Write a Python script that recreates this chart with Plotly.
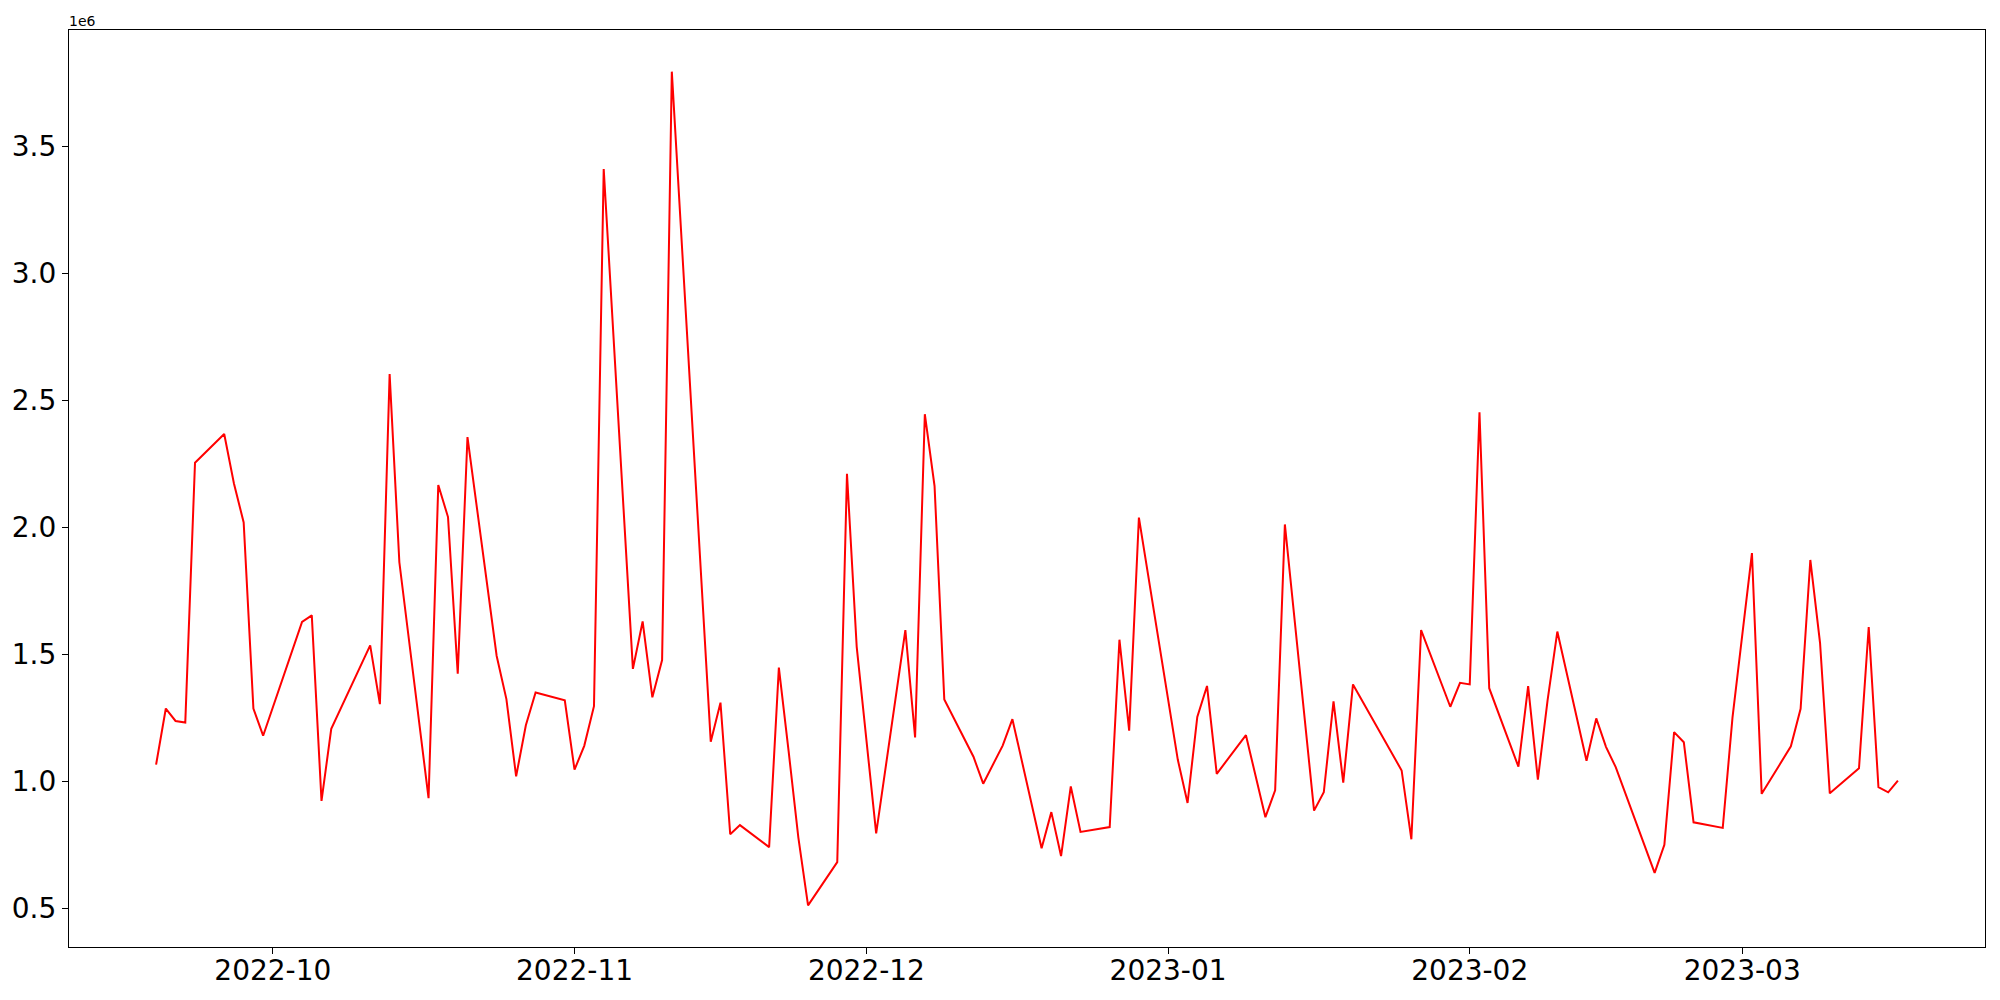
import plotly.graph_objects as go
import pandas as pd

dates = [
    "2022-09-19", "2022-09-20", "2022-09-21", "2022-09-22", "2022-09-23",
    "2022-09-26", "2022-09-27", "2022-09-28", "2022-09-29", "2022-09-30",
    "2022-10-04", "2022-10-05", "2022-10-06", "2022-10-07",
    "2022-10-11", "2022-10-12", "2022-10-13", "2022-10-14",
    "2022-10-17", "2022-10-18", "2022-10-19", "2022-10-20", "2022-10-21",
    "2022-10-24", "2022-10-25", "2022-10-26", "2022-10-27", "2022-10-28",
    "2022-10-31", "2022-11-01", "2022-11-02", "2022-11-03", "2022-11-04",
    "2022-11-07", "2022-11-08", "2022-11-09", "2022-11-10", "2022-11-11",
    "2022-11-15", "2022-11-16", "2022-11-17", "2022-11-18",
    "2022-11-21", "2022-11-22", "2022-11-23", "2022-11-24", "2022-11-25",
    "2022-11-28", "2022-11-29", "2022-11-30", "2022-12-02",
    "2022-12-05", "2022-12-06", "2022-12-07", "2022-12-08", "2022-12-09",
    "2022-12-12", "2022-12-13", "2022-12-15", "2022-12-16",
    "2022-12-19", "2022-12-20", "2022-12-21", "2022-12-22", "2022-12-23",
    "2022-12-26", "2022-12-27", "2022-12-28", "2022-12-29",
    "2023-01-02", "2023-01-03", "2023-01-04", "2023-01-05", "2023-01-06",
    "2023-01-09", "2023-01-11", "2023-01-12", "2023-01-13",
    "2023-01-16", "2023-01-17", "2023-01-18", "2023-01-19", "2023-01-20",
    "2023-01-25", "2023-01-26", "2023-01-27",
    "2023-01-30", "2023-01-31", "2023-02-01", "2023-02-02", "2023-02-03",
    "2023-02-06", "2023-02-07", "2023-02-08", "2023-02-09", "2023-02-10",
    "2023-02-13", "2023-02-14", "2023-02-15", "2023-02-16",
    "2023-02-20", "2023-02-21", "2023-02-22", "2023-02-23", "2023-02-24",
    "2023-02-27", "2023-02-28", "2023-03-02", "2023-03-03",
    "2023-03-06", "2023-03-07", "2023-03-08", "2023-03-09", "2023-03-10",
    "2023-03-13", "2023-03-14", "2023-03-15", "2023-03-16", "2023-03-17",
]

volume = [
    1066000, 1287000, 1238000, 1232000, 2255000,
    2368000, 2173000, 2020000, 1287000, 1180000,
    1628000, 1654000, 923000, 1207000,
    1536000, 1304000, 2604000, 1863000,
    934000, 2167000, 2041000, 1424000, 2356000,
    1494000, 1324000, 1020000, 1221000, 1350000,
    1319000, 1046000, 1140000, 1296000, 3412000,
    1443000, 1630000, 1331000, 1478000, 3795000,
    1156000, 1310000, 792000, 828000,
    741000, 1448000, 1120000, 780000, 512000,
    682000, 2211000, 1530000, 795000,
    1596000, 1173000, 2446000, 2163000, 1323000,
    1097000, 991000, 1141000, 1245000,
    737000, 879000, 706000, 980000, 801000,
    820000, 1558000, 1200000, 2039000,
    1085000, 915000, 1254000, 1376000, 1030000,
    1182000, 859000, 965000, 2012000,
    885000, 957000, 1315000, 995000, 1382000,
    1043000, 772000, 1596000,
    1294000, 1388000, 1382000, 2454000, 1367000,
    1058000, 1375000, 1007000, 1320000, 1590000,
    1081000, 1248000, 1136000, 1056000,
    640000, 750000, 1194000, 1154000, 839000,
    817000, 1251000, 1899000, 951000,
    1138000, 1286000, 1872000, 1545000, 953000,
    1052000, 1608000, 977000, 957000, 1003000,
]

y_tick_vals = [500000, 1000000, 1500000, 2000000, 2500000, 3000000, 3500000]
y_tick_text = ["0.5", "1.0", "1.5", "2.0", "2.5", "3.0", "3.5"]
x_tick_vals = ["2022-10-01", "2022-11-01", "2022-12-01", "2023-01-01", "2023-02-01", "2023-03-01"]
x_tick_text = ["2022-10", "2022-11", "2022-12", "2023-01", "2023-02", "2023-03"]

dt = pd.to_datetime(dates)
span = dt.max() - dt.min()
x_range = [dt.min() - span * 0.05, dt.max() + span * 0.05]
vmin, vmax = min(volume), max(volume)
vspan = vmax - vmin
y_range = [vmin - vspan * 0.05, vmax + vspan * 0.05]

fig = go.Figure()
fig.add_trace(go.Scatter(x=dt, y=volume, mode="lines",
                         line=dict(color="red", width=2), showlegend=False))

axis_common = dict(
    showline=True, mirror=True, linecolor="black", linewidth=1.2,
    ticks="outside", ticklen=6, tickwidth=1.2, tickcolor="black",
    showgrid=False, zeroline=False, automargin=False,
    tickfont=dict(family="DejaVu Sans", size=28, color="black"),
)

# the page body has an 8px margin; margins below compensate for it
fig.update_layout(
    width=2000, height=1000,
    margin=dict(l=61, r=23, t=22, b=61, autoexpand=False),
    paper_bgcolor="white", plot_bgcolor="white",
    font=dict(family="DejaVu Sans", color="black"),
    xaxis=dict(range=x_range, tickvals=x_tick_vals, ticktext=x_tick_text,
               ticklabelstandoff=-8, **axis_common),
    yaxis=dict(range=y_range, tickvals=y_tick_vals, ticktext=y_tick_text, **axis_common),
    annotations=[dict(text="1e6", xref="paper", yref="paper", x=0, y=1,
                      xanchor="left", yanchor="bottom", showarrow=False,
                      font=dict(family="DejaVu Sans", size=14, color="black"),
                      xshift=-2, yshift=-1)],
)

fig.write_html("out.html")
